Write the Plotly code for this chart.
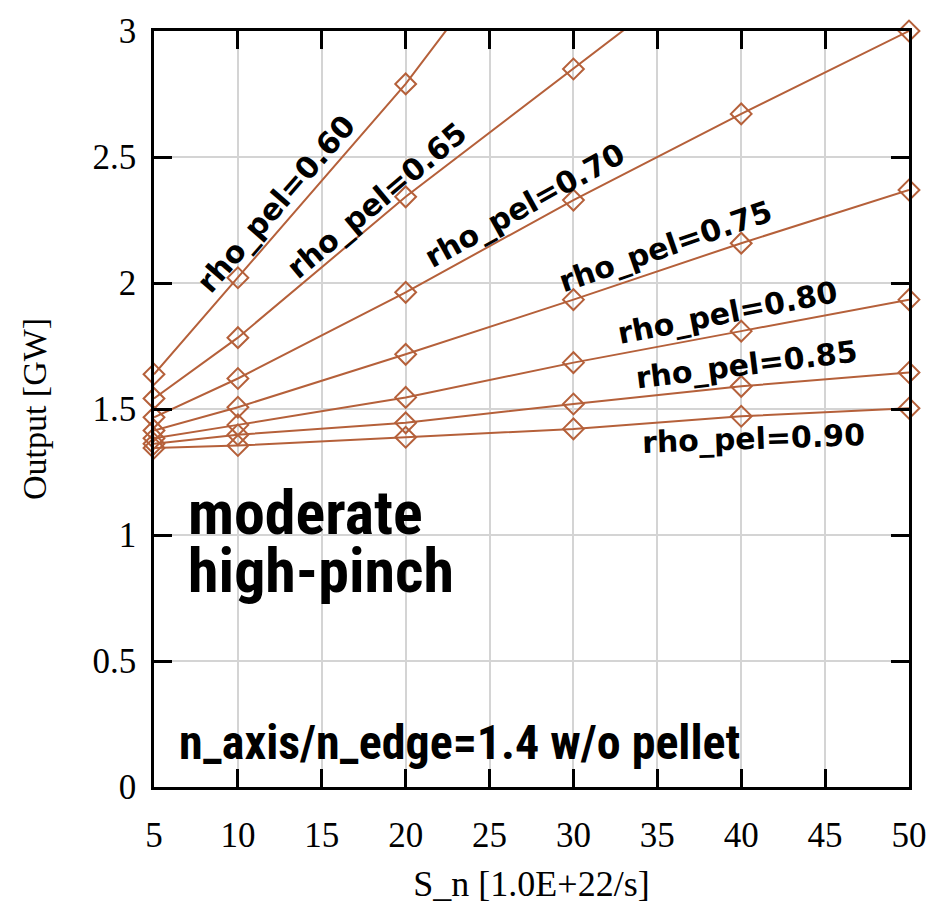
import numpy as np
import plotly.graph_objects as go

# Neutron source rate S_n [1.0E+22/s]
s_n = [5, 10, 20, 30, 40, 50]

# Output [GW] for each pellet deposition radius rho_pel
out_060 = [1.638, 2.021, 2.790, 3.67]
out_065 = [1.542, 1.783, 2.342, 2.849, 3.36]
out_070 = [1.467, 1.621, 1.963, 2.329, 2.671, 3.00]
out_075 = [1.415, 1.507, 1.717, 1.934, 2.158, 2.369]
out_080 = [1.384, 1.437, 1.546, 1.684, 1.809, 1.934]
out_085 = [1.362, 1.398, 1.445, 1.520, 1.590, 1.645]
out_090 = [1.345, 1.355, 1.388, 1.421, 1.471, 1.503]

series = [
    ("rho_pel=0.60", out_060),
    ("rho_pel=0.65", out_065),
    ("rho_pel=0.70", out_070),
    ("rho_pel=0.75", out_075),
    ("rho_pel=0.80", out_080),
    ("rho_pel=0.85", out_085),
    ("rho_pel=0.90", out_090),
]

# Curve label placement (data coords) and rotation
label_x = [12.27, 18.25, 27.06, 35.46, 39.18, 40.3, 40.72]
label_y = [2.317, 2.329, 2.309, 2.144, 1.883, 1.678, 1.382]
label_angle = [-49, -40, -29, -19, -11, -7, -2]

x_ticks = [5, 10, 15, 20, 25, 30, 35, 40, 45, 50]
y_ticks = [0, 0.5, 1, 1.5, 2, 2.5, 3]
y_tick_text = ["0", "0.5", "1", "1.5", "2", "2.5", "3"]

X_MIN, X_MAX = 5, 50
Y_MIN, Y_MAX = 0, 3

LINE_COLOR = "#B5603A"
SERIF = "Liberation Serif, Times New Roman, serif"
LABEL_FONT = "DejaVu Sans, sans-serif"
NARROW = "Roboto Condensed, Liberation Sans Narrow, Liberation Sans, sans-serif"

fig = go.Figure()

for name, vals in series:
    xs = np.array(s_n[:len(vals)], dtype=float)
    ys = np.array(vals, dtype=float)
    # connecting lines, clipped to the plot box
    fig.add_trace(go.Scatter(
        x=xs, y=ys, mode="lines", name=name,
        line=dict(color=LINE_COLOR, width=2),
        cliponaxis=True, showlegend=False, hoverinfo="skip",
    ))
    # open diamonds, allowed to overhang the frame at the edges
    keep = ys <= Y_MAX
    fig.add_trace(go.Scatter(
        x=xs[keep], y=ys[keep], mode="markers", name=name,
        marker=dict(symbol="diamond-open", size=16, color=LINE_COLOR,
                    line=dict(width=2, color=LINE_COLOR)),
        cliponaxis=False, showlegend=False,
    ))

for (name, _), lx, ly, ang in zip(series, label_x, label_y, label_angle):
    fig.add_annotation(
        x=lx, y=ly, text="<b>" + name + "</b>", textangle=ang,
        showarrow=False, xanchor="center", yanchor="middle",
        font=dict(family=LABEL_FONT, size=30, color="black"),
    )

# figure captions
for txt, py in [("moderate", 0.363), ("high-pinch", 0.286)]:
    fig.add_annotation(
        x=0.042, y=py, xref="paper", yref="paper",
        text="<b>" + txt + "</b>", showarrow=False,
        xanchor="left", yanchor="middle", align="left",
        font=dict(family=NARROW, size=62, color="black"),
    )
fig.add_annotation(
    x=0.030, y=0.059, xref="paper", yref="paper",
    text="<b>n_axis/n_edge=1.4 w/o pellet</b>", showarrow=False,
    xanchor="left", yanchor="middle", align="left",
    font=dict(family=NARROW, size=48, color="black"),
)

axis_common = dict(
    showline=True, linecolor="black", linewidth=2.5, mirror="ticks",
    ticks="inside", ticklen=18, tickwidth=2.5, tickcolor="black",
    showgrid=True, gridcolor="#d4d4d4", gridwidth=2,
    zeroline=False,
    tickfont=dict(family=SERIF, size=35, color="black"),
)

fig.update_xaxes(
    range=[X_MIN, X_MAX], tickmode="array", tickvals=x_ticks,
    ticktext=[str(v) for v in x_ticks], ticklabelstandoff=15,
    title=dict(text="S_n [1.0E+22/s]", font=dict(family=SERIF, size=36, color="black"),
               standoff=18),
    **axis_common,
)
fig.update_yaxes(
    range=[Y_MIN, Y_MAX], tickmode="array", tickvals=y_ticks, ticktext=y_tick_text,
    ticklabelstandoff=8,
    title=dict(text="Output [GW]", font=dict(family=SERIF, size=34, color="black"),
               standoff=36),
    **axis_common,
)

fig.update_layout(
    width=939, height=910,
    margin=dict(l=154, r=24, t=30, b=120),
    paper_bgcolor="white", plot_bgcolor="white",
    showlegend=False,
)

fig.write_html("out.html")
